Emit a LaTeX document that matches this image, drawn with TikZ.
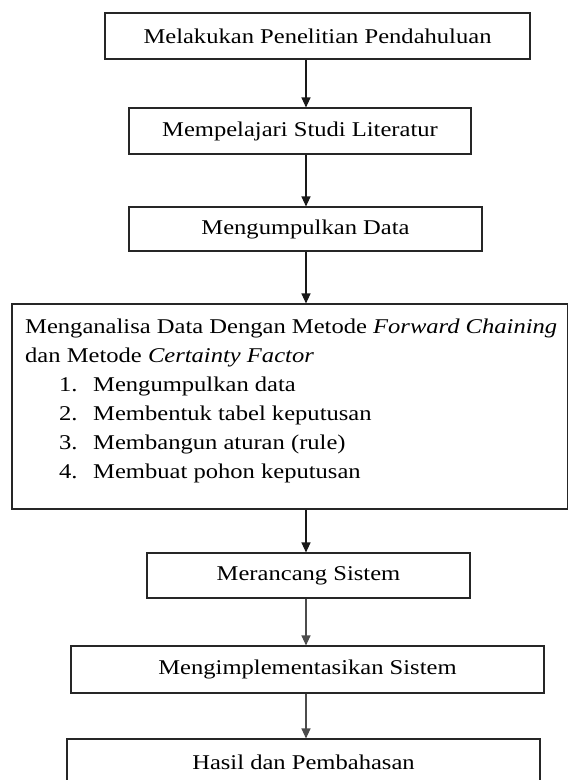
\documentclass[tikz,border=0pt]{standalone}
\usepackage{fontspec}
\setmainfont{Liberation Serif}[FakeStretch=1.17]
\usetikzlibrary{arrows.meta}
\tikzset{
  stepbox/.style={draw=black!85, line width=1.1pt, inner sep=0pt, anchor=center,
    font=\fontsize{21}{28}\selectfont, text=black},
  flowarrow/.style={draw=black!90, line width=1.1pt, -{Triangle[width=9pt,length=10pt]}},
  boxtext/.style={anchor=base west, inner sep=0pt, font=\fontsize{21}{28}\selectfont}
}
\begin{document}
\begin{tikzpicture}[x=1pt,y=-1pt]
\useasboundingbox (0,0) rectangle (568,780);
\node[stepbox, minimum width=425pt, minimum height=46pt] (b1) at (317.5,36) {Melakukan Penelitian Pendahuluan};
\node[stepbox, minimum width=342pt, minimum height=46pt] (b2) at (300,131) {Mempelajari Studi Literatur};
\node[stepbox, minimum width=353pt, minimum height=44pt] (b3) at (305.5,229) {Mengumpulkan Data};
\node[stepbox, minimum width=556pt, minimum height=205pt] (b4) at (290,406.5) {};
\node[stepbox, minimum width=323pt, minimum height=45pt] (b5) at (308.5,575.5) {Merancang Sistem};
\node[stepbox, minimum width=473pt, minimum height=47pt] (b6) at (307.5,669.5) {Mengimplementasikan Sistem};
\node[stepbox, minimum width=473pt, minimum height=47pt] (b7) at (303.5,762.5) {Hasil dan Pembahasan};
% text inside box 4
\node[boxtext] (t1) at (25,333) {Menganalisa Data Dengan Metode \textit{Forward Chaining}};
\node[boxtext] (t2) at (25,362) {dan Metode \textit{Certainty Factor}};
\node[boxtext] (n1) at (59,391) {1.};
\node[boxtext] (i1) at (93,391) {Mengumpulkan data};
\node[boxtext] (n2) at (59,420) {2.};
\node[boxtext] (i2) at (93,420) {Membentuk tabel keputusan};
\node[boxtext] (n3) at (59,449) {3.};
\node[boxtext] (i3) at (93,449) {Membangun aturan (rule)};
\node[boxtext] (n4) at (59,478) {4.};
\node[boxtext] (i4) at (93,478) {Membuat pohon keputusan};
% arrows
\coordinate (ax) at (306,0);
\draw[flowarrow] (b1.south -| ax) -- (b2.north -| ax);
\draw[flowarrow] (b2.south -| ax) -- (b3.north -| ax);
\draw[flowarrow] (b3.south -| ax) -- (b4.north -| ax);
\draw[flowarrow] (b4.south -| ax) -- (b5.north -| ax);
\draw[flowarrow, draw=black!70] (b5.south -| ax) -- (b6.north -| ax);
\draw[flowarrow, draw=black!70] (b6.south -| ax) -- (b7.north -| ax);
\end{tikzpicture}
\end{document}
